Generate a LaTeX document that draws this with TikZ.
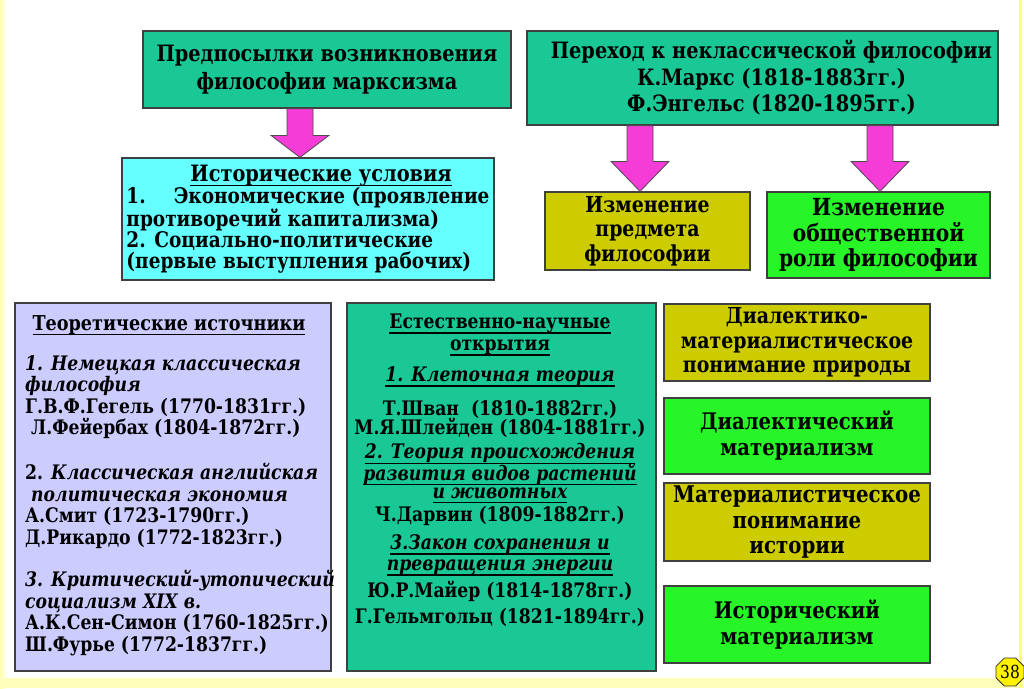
\documentclass[tikz,border=0pt]{standalone}
\usepackage{fontspec}
\setmainfont{DejaVu Serif}
\newfontfamily\tnr{DejaVu Serif}[FakeStretch=0.86]
\usetikzlibrary{calc,shapes.geometric}
\definecolor{seaG}{RGB}{26,200,150}
\definecolor{cyanC}{RGB}{102,255,255}
\definecolor{oliveY}{RGB}{204,204,0}
\definecolor{limeG}{RGB}{40,245,40}
\definecolor{lavB}{RGB}{204,204,255}
\definecolor{magA}{RGB}{245,60,215}
\definecolor{edgeY}{RGB}{255,255,120}
\newcommand\myfs[2]{\tnr\fontsize{#1}{#2}\selectfont}
\newcommand\myul[1]{\setbox0\hbox{#1}\rlap{\rule[-5pt]{\wd0}{1.3pt}}\box0}
\newcommand\fatarrow[4]{%
  \path[draw=black!70, line width=0.8pt, fill=magA] let \p1=(#2.south), \p2=(#3.north) in
   ({(#1-13)*1pt},\y1) -- ({(#1+13)*1pt},\y1) -- ({(#1+13)*1pt},\y2+#4) -- ({(#1+29)*1pt},\y2+#4)
   -- ({#1*1pt},\y2) -- ({(#1-29)*1pt},\y2+#4) -- ({(#1-13)*1pt},\y2+#4) -- cycle;}
\begin{document}
\begin{tikzpicture}[x=1pt,y=-1pt,
  box/.style={draw=black!75, line width=1.2pt, inner sep=0pt, align=center, text=black},
  hbox/.style={font={\myfs{22}{24.5}\bfseries}},
  bbox/.style={font={\myfs{23}{25.5}\bfseries}}]
\useasboundingbox (0,0) rectangle (1024,688);
\fill[white] (0,0) rectangle (1024,688);
\shade[left color=edgeY!60, right color=white] (0,0) rectangle (7,688);
\fill[edgeY!50] (0,678) rectangle (1024,688);
\draw[edgeY, line width=3pt] (1020,0) -- (1020,688);

\node[box, fill=seaG, minimum width=368pt, minimum height=77pt, font={\myfs{22.5}{28}\bfseries}] (pre) at (327,69.5) {Предпосылки возникновения\\философии марксизма};
\node[box, fill=seaG, minimum width=471pt, minimum height=94pt, font={\myfs{22.5}{26.5}\bfseries}] (per) at (762.5,78) {\hspace*{18pt}Переход к неклассической философии\\\hspace*{18pt}К.Маркс (1818-1883гг.)\\\hspace*{18pt}Ф.Энгельс (1820-1895гг.)};
\node[box, fill=cyanC, minimum width=372pt, minimum height=122pt, align=left, font={\myfs{21.5}{21}\bfseries}] (hist) at (308,219) {\hspace*{64pt}\myul{\fontsize{22.5}{21}\selectfont Исторические условия}\\1.\hspace{28pt}Экономические (проявление\\противоречий капитализма)\\2. Социально-политические\\(первые выступления рабочих)};
\node[box, fill=oliveY, minimum width=205pt, minimum height=78pt, hbox] (pred) at (647.5,231) {Изменение\\предмета\\философии};
\node[box, fill=limeG, minimum width=223pt, minimum height=86pt, font={\myfs{23.5}{25.5}\bfseries}] (soc) at (878.5,235) {Изменение\\общественной\\роли философии};

\node[box, fill=lavB, minimum width=316pt, minimum height=368pt] (teor) at (173,487) {};
\node[font={\myfs{20.5}{21.5}\bfseries}, anchor=base, inner sep=0pt] (teorh) at (169,330) {\myul{Теоретические источники}};
\node[font={\myfs{20}{21.5}\bfseries}, anchor=north west, align=left, inner sep=0pt] (teorb) at (25,355) {\textit{1. Немецкая классическая}\\
\textit{философия}\\
Г.В.Ф.Гегель (1770-1831гг.)\\
\hspace*{6pt}Л.Фейербах (1804-1872гг.)\\[23.5pt]
2. \textit{Классическая английская}\\
\hspace*{6pt}\textit{политическая экономия}\\
А.Смит (1723-1790гг.)\\
Д.Рикардо (1772-1823гг.)\\[21pt]
\textit{3. Критический-утопический}\\
\textit{социализм XIX в.}\\
А.К.Сен-Симон (1760-1825гг.)\\
Ш.Фурье (1772-1837гг.)};

\node[box, fill=seaG, minimum width=309pt, minimum height=368pt] (est) at (501.5,487) {};
\node[anchor=north, align=center, inner sep=0pt, font={\myfs{20}{20}\bfseries}] (estb) at (500,314) {\myul{Естественно-научные}\\[2pt]
\myul{открытия}\\[11pt]
\myul{\textit{1. Клеточная теория}}\\[13pt]
Т.Шван~ (1810-1882гг.)\\[-1pt]
М.Я.Шлейден (1804-1881гг.)\\[4pt]
\myul{\textit{2. Теория происхождения}}\\[-1pt]
\myul{\textit{развития видов растений}}\\[-2pt]
\myul{\textit{и животных}}\\[2pt]
Ч.Дарвин (1809-1882гг.)\\[8pt]
\myul{\textit{3.Закон сохранения и}}\\[1pt]
\myul{\textit{превращения энергии}}\\[5pt]
Ю.Р.Майер (1814-1878гг.)\\[6pt]
Г.Гельмгольц (1821-1894гг.)};

\node[box, fill=oliveY, minimum width=266pt, minimum height=77pt, hbox] (nat) at (797,342.5) {Диалектико-\\материалистическое\\понимание природы};
\node[box, fill=limeG, minimum width=266pt, minimum height=76pt, font={\myfs{22.8}{26}\bfseries}] (dia) at (797,436) {Диалектический\\материализм};
\node[box, fill=oliveY, minimum width=266pt, minimum height=78pt, bbox] (hisu) at (797,522) {Материалистическое\\понимание\\истории};
\node[box, fill=limeG, minimum width=266pt, minimum height=77pt, font={\myfs{22.8}{26}\bfseries}] (hism) at (797,624.5) {Исторический\\материализм};

\node[regular polygon, regular polygon sides=8, draw=black!80, line width=0.8pt, fill=yellow, minimum size=30pt, inner sep=0pt, font=\myfs{18}{18}] (pg) at (1010,672) {38};

\fatarrow{300}{pre}{hist}{22pt}
\fatarrow{640}{per}{pred}{30pt}
\fatarrow{880}{per}{soc}{30pt}
\end{tikzpicture}
\end{document}
